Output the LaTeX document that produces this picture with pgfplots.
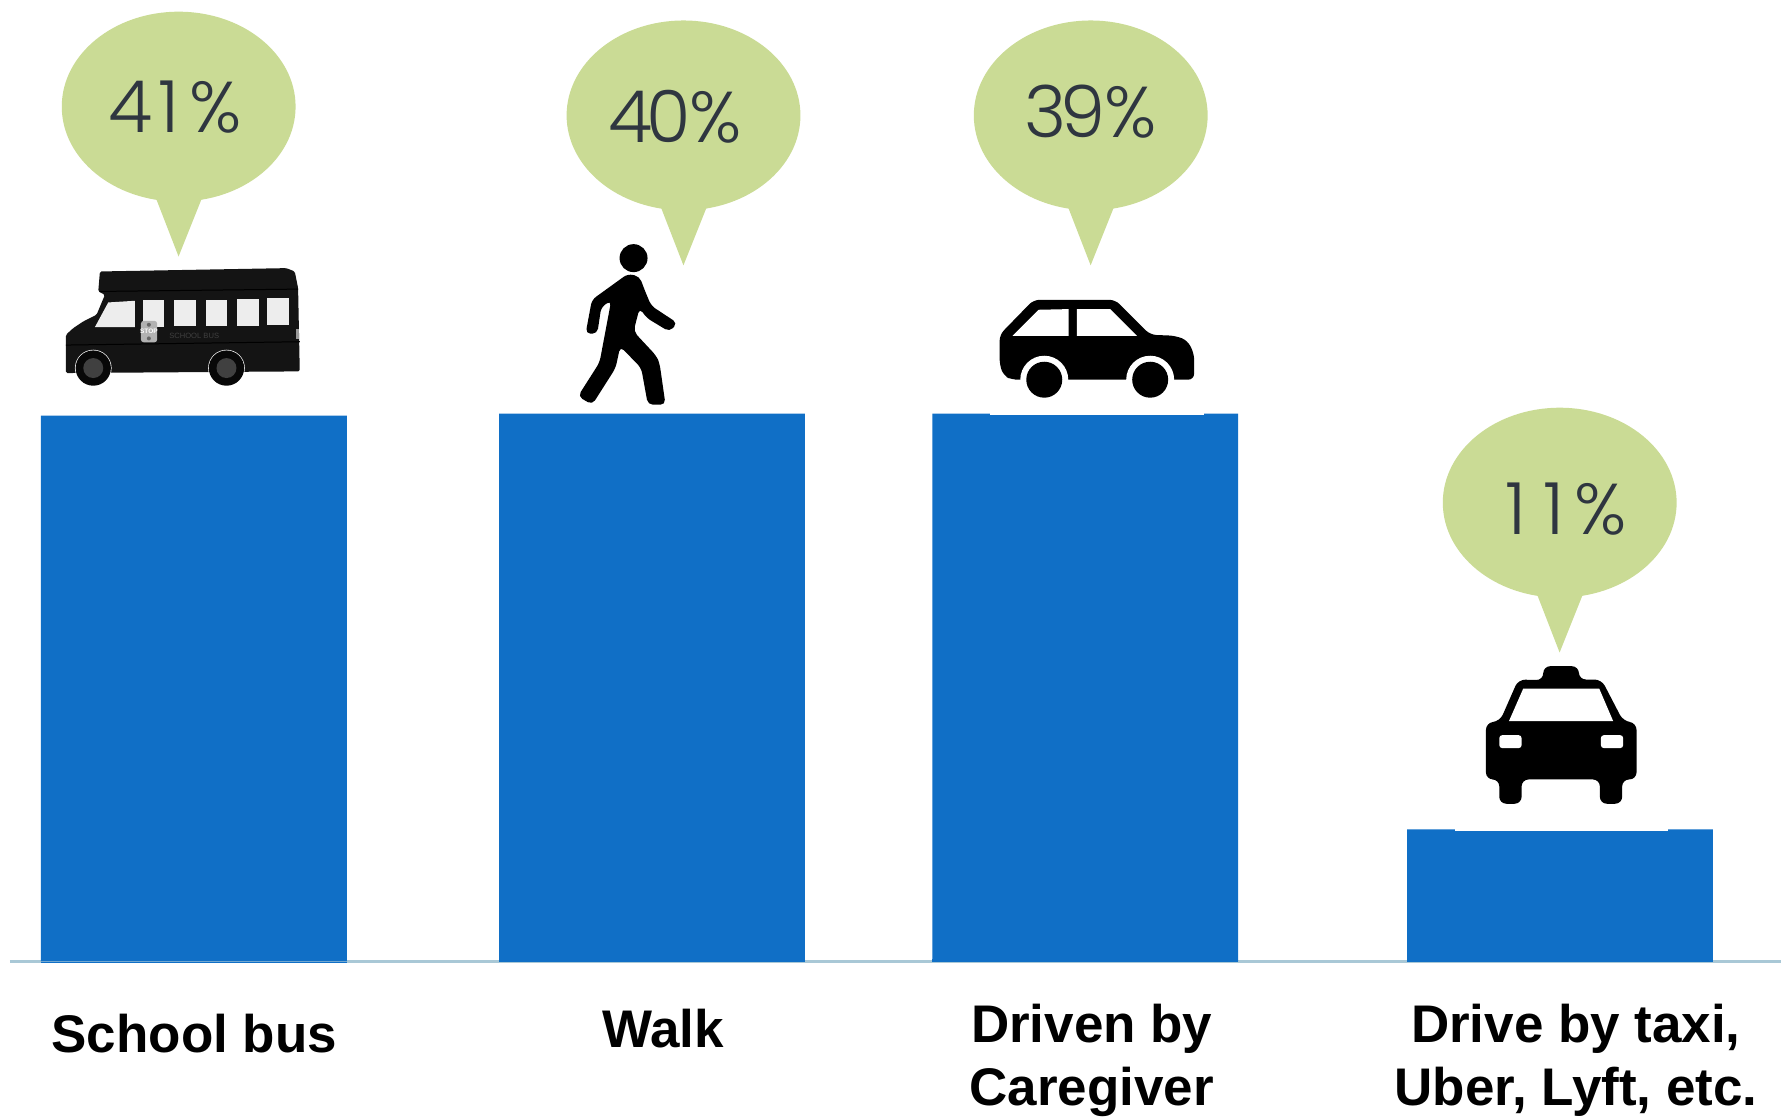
\documentclass[border=0pt]{standalone}
\usepackage{fontspec}
\setmainfont{Liberation Sans}
\newfontfamily\pctfont{Poppins Light}
\usepackage{pgfplots}
\pgfplotsset{compat=1.18}

\definecolor{barblue}{HTML}{106FC6}
\definecolor{bubble}{HTML}{CADB95}
\definecolor{pcttext}{HTML}{2F3640}
\definecolor{baseline}{HTML}{A9C8D6}

% speech bubble: centre x, centre y
\newcommand{\bubble}[2]{%
  \fill[bubble] (#1,#2) ellipse [x radius=117, y radius=95];
  \fill[bubble] (#1-23,#2+91) -- (#1+23.5,#2+91) -- (#1-0.1,#2+150) -- cycle;
}
% percent text: x, baseline y, first digit, second digit
\newcommand{\pct}[4]{%
  \node[anchor=base,inner sep=0pt,text=pcttext,font=\pctfont\fontsize{72}{72}\selectfont] at (#1,#2)
    {\makebox[38pt][c]{#3}\makebox[38pt][c]{#4}\kern2pt\%};
}

\begin{document}
\begin{tikzpicture}
\begin{axis}[
    scale only axis,
    width=1772pt, height=962pt,
    xmin=10, xmax=1782,
    ymin=0, ymax=962,
    axis x line=bottom,
    axis y line=none,
    axis line style={-,draw=baseline,line width=2.5pt},
    xtick={194.5,663.6,1092.5,1577},
    xticklabels={{\rule{0pt}{91pt}School bus},{\rule{0pt}{85.7pt}Walk},{\rule{0pt}{80.7pt}Driven by\\Caregiver},{\rule{0pt}{80.7pt}Drive by taxi,\\Uber, Lyft, etc.}},
    xticklabel style={anchor=north,align=center,inner sep=0pt,yshift=0pt,
      font=\bfseries\fontsize{53}{63}\selectfont},
    major tick length=0pt,
    ybar,
    bar width=306pt,
    bar shift=0pt,
    clip=false,
]
% bar heights in pixels above the baseline, as drawn in the picture
\addplot[draw=none,fill=barblue] coordinates {(194,546) (652.5,548) (1086,548) (1561,132)};
\end{axis}

\begin{scope}[shift={(-10pt,962pt)},x=1pt,y=-1pt]
\path[use as bounding box] (0,0) rectangle (1782,1115);

% bars 2-4 lie over the baseline, bar 1 reaches just below it
\fill[barblue] (41,962.6) rectangle (347,964);
\fill[barblue] (499.5,960) rectangle (805.5,963);
\fill[barblue] (933,960) rectangle (1239,963);
\fill[barblue] (1408,960) rectangle (1714,963);

% thin pale strips on top of the last two bars
\fill[white] (991,413.5) rectangle (1205,415.5);
\fill[white] (1456,829) rectangle (1669,831.5);

\bubble{178.8}{106.7}
\bubble{684}{115.5}
\bubble{1091.5}{115.5}
\bubble{1560.8}{503}
\pct{177}{133}{4}{1}
\pct{677.5}{143}{4}{0}
\pct{1092}{137.5}{3}{9}
\pct{1563}{535}{1}{1}

% bus
\begin{scope}[shift={(40,240)},x=.3333pt,y=-.3333pt]
\fill[black!92,rounded corners=1.5pt] (180,95) -- (740,85) -- (765,95) -- (775,145) -- (780,395) -- (78,400) -- (78,285) -- (100,265) -- (130,245) -- (170,225) -- (195,165) -- (175,155) -- cycle;
\draw[black,line width=1pt] (178,155) -- (775,148);
\draw[black,line width=1pt] (78,316) -- (780,306);
\fill[black!7] (165,262) -- (205,188) -- (285,183) -- (285,262) -- cycle;
\fill[black!7] (308,182) rectangle (373,262);
\fill[black!7] (402,180) rectangle (468,260);
\fill[black!7] (497,180) rectangle (563,260);
\fill[black!7] (591,179) rectangle (658,259);
\fill[black!7] (682,176) rectangle (748,256);
\fill[black!30,rounded corners=3pt] (303,243) rectangle (352,308);
\fill[black!60] (327,255) circle [radius=6];
\fill[black!60] (327,296) circle [radius=6];
\node[text=white,font=\bfseries\fontsize{6.5}{7}\selectfont,inner sep=0pt] at (327,275) {STOP};
\node[text=black!75,font=\fontsize{7.6}{8}\selectfont,inner sep=0pt] at (463,288) {SCHOOL BUS};
\fill[black!40] (769,267) rectangle (778,297);
\foreach \cx in {160,560} {
  \fill[white] (\cx,385) circle [radius=55];
  \fill[black!97] (\cx,385) circle [radius=53];
  \fill[black!75] (\cx,385) circle [radius=30];
}
\end{scope}

% walker
\begin{scope}[shift={(560,230)},x=.3333pt,y=-.3333pt]
\fill[black] (222,85) circle [radius=42];
\fill[black,rounded corners=5pt] (205,132) -- (240,140) -- (255,180) -- (275,228) -- (354,280) -- (330,306) -- (262,265) -- (240,235) -- (222,305) -- (290,378) -- (300,400) -- (318,525) -- (265,525) -- (245,415) -- (182,350) -- (168,415) -- (98,525) -- (55,500) -- (120,398) -- (155,212) -- (125,232) -- (113,312) -- (78,312) -- (97,210) -- cycle;
\end{scope}

% car
\begin{scope}[shift={(981,280)},x=.3333pt,y=-.3333pt]
\fill[black,rounded corners=6pt] (58,165) -- (160,60) -- (405,60) -- (510,165) -- (585,168) -- (622,182) -- (642,222) -- (642,300) -- (95,300) -- (70,288) -- (58,255) -- cycle;
\fill[white] (192,300) circle [radius=72];
\fill[white] (510,300) circle [radius=72];
\fill[black] (192,300) circle [radius=54];
\fill[black] (510,300) circle [radius=54];
\fill[white] (97,168) -- (175,90) -- (265,88) -- (265,168) -- cycle;
\fill[white] (290,168) -- (290,88) -- (390,88) -- (470,168) -- cycle;
\end{scope}

% taxi
\begin{scope}[shift={(1461,650)},x=.3333pt,y=-.3333pt]
\fill[black,rounded corners=7pt] (250,92) -- (250,50) -- (357,50) -- (357,90) -- (425,90) -- (490,215) -- (530,220) -- (530,390) -- (487,390) -- (487,463) -- (420,463) -- (420,390) -- (185,390) -- (185,463) -- (118,463) -- (118,390) -- (78,390) -- (78,220) -- (120,215) -- (175,90) -- cycle;
\fill[white] (147,215) -- (190,117) -- (418,117) -- (460,215) -- cycle;
\fill[white,rounded corners=3pt] (118,257) rectangle (185,296);
\fill[white,rounded corners=3pt] (423,257) rectangle (490,296);
\end{scope}
\end{scope}
\end{tikzpicture}
\end{document}
